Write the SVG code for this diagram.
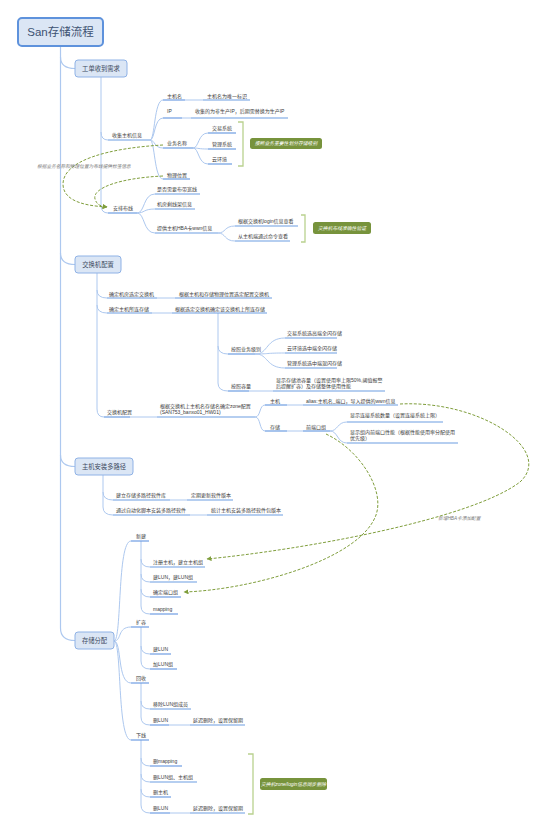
<svg xmlns="http://www.w3.org/2000/svg" width="554" height="832" viewBox="0 0 554 832">
<style>
.t{font-family:"Liberation Sans","Noto Sans CJK SC",sans-serif;font-size:5px;fill:#3a3a3a}
.bt{font-family:"Liberation Sans","Noto Sans CJK SC",sans-serif;font-size:6.3px;fill:#3b4a5e;text-anchor:middle}
.box{fill:#dbe6f5;stroke:#8fb2e6;stroke-width:1}
.u{stroke:#6d9de2;stroke-width:1.2;fill:none}
.c{stroke:#adc8ef;stroke-width:1;fill:none}
.tr{stroke:#adc8ef;stroke-width:1.2;fill:none}
.d{stroke:#7f9e3c;stroke-width:1;fill:none;stroke-dasharray:3 1.6}
.br{stroke:#b9d18e;stroke-width:1.3;fill:none}
.cl{fill:#77933c}
.ct{font-family:"Liberation Sans","Noto Sans CJK SC",sans-serif;font-size:4.8px;fill:#fff;font-style:italic;text-anchor:middle}
.lb{font-family:"Liberation Sans","Noto Sans CJK SC",sans-serif;font-size:4.7px;fill:#7a7a7a;font-style:italic}
</style>
<defs>
<marker id="ah" viewBox="0 0 10 10" refX="9" refY="5" markerWidth="5" markerHeight="5" markerUnits="userSpaceOnUse" orient="auto">
<path d="M0,0 L10,5 L0,10 Z" fill="#7f9e3c"/>
</marker>
</defs>

<g id="connectors">
<!-- trunk -->
<path class="tr" d="M60.5,46 V628 Q60.5,640.5 75,640.5"/>
<path class="tr" d="M60.5,57 Q60.5,68.5 75,68.5"/>
<path class="tr" d="M60.5,253 Q60.5,264.5 75,264.5"/>
<path class="tr" d="M60.5,455 Q60.5,466.5 75,466.5"/>
<!-- 工单收到需求 -->
<path class="c" d="M101,77 V205 Q101,213 108,213"/>
<path class="c" d="M101,132 Q101,140 108,140"/>
<!-- 收集主机信息 fan -->
<path class="c" d="M150,140 C155,140 154,100 163,100"/>
<path class="c" d="M150,140 C155,140 154,118 163,118"/>
<path class="c" d="M150,140 C155,140 154,148 163,148"/>
<path class="c" d="M150,140 C155,140 154,179 163,179"/>
<path class="c" d="M185,100 H203"/>
<path class="c" d="M182,118 H191"/>
<!-- 业务名称 fan -->
<path class="c" d="M193,148 C199,148 198,133 208,133"/>
<path class="c" d="M193,148 C199,148 198,149 208,149"/>
<path class="c" d="M193,148 C199,148 198,164 208,164"/>
<!-- 安排布线 fan -->
<path class="c" d="M137,213 C145,213 143,194 155,194"/>
<path class="c" d="M137,213 C145,213 143,209 155,209"/>
<path class="c" d="M137,213 C145,213 143,233 155,233"/>
<path class="c" d="M218,233 C226,233 224,226 235,226"/>
<path class="c" d="M218,233 C226,233 224,241 235,241"/>
<!-- 交换机配置 -->
<path class="c" d="M97,273 V409 Q97,417 104,417"/>
<path class="c" d="M97,290 Q97,298 107,298"/>
<path class="c" d="M97,305 Q97,313 107,313"/>
<path class="c" d="M157,298 H175"/>
<path class="c" d="M152,313 H172"/>
<path class="c" d="M218,313 V383 Q218,391 228,391"/>
<path class="c" d="M218,346 Q218,354 228,354"/>
<path class="c" d="M256,354 C268,354 266,338 285,338"/>
<path class="c" d="M256,354 C268,354 266,353 285,353"/>
<path class="c" d="M256,354 C268,354 266,368 285,368"/>
<path class="c" d="M249,391 H273"/>
<path class="c" d="M130,417 H157"/>
<path class="c" d="M255,417 C261,417 259,405 265,405"/>
<path class="c" d="M255,417 C261,417 259,431 265,431"/>
<path class="c" d="M287,405 H303"/>
<path class="c" d="M287,431 H303"/>
<path class="c" d="M330,431 C338,431 337,422 347,422"/>
<path class="c" d="M330,431 C338,431 337,443 347,443"/>
<!-- 主机安装多路径 -->
<path class="c" d="M103,475 V507 Q103,515 113,515"/>
<path class="c" d="M103,492 Q103,500 113,500"/>
<path class="c" d="M170,500 H187"/>
<path class="c" d="M190,515 H207"/>
<!-- 存储分配 -->
<path class="c" d="M114,641 C122,641 117,541 131,541"/>
<path class="c" d="M114,641 C122,641 117,627 131,627"/>
<path class="c" d="M114,641 C122,641 117,683 131,683"/>
<path class="c" d="M114,641 C122,641 117,740 131,740"/>
<path class="c" d="M141,541 V606 Q141,614 150,614"/>
<path class="c" d="M141,559 Q141,567 150,567"/>
<path class="c" d="M141,574 Q141,582 150,582"/>
<path class="c" d="M141,589 Q141,597 150,597"/>
<path class="c" d="M141,627 V661 Q141,669 150,669"/>
<path class="c" d="M141,646 Q141,654 150,654"/>
<path class="c" d="M141,683 V717 Q141,725 150,725"/>
<path class="c" d="M141,701 Q141,709 150,709"/>
<path class="c" d="M169,725 H190"/>
<path class="c" d="M141,740 V805 Q141,813 150,813"/>
<path class="c" d="M141,758 Q141,766 150,766"/>
<path class="c" d="M141,774 Q141,782 150,782"/>
<path class="c" d="M141,789 Q141,797 150,797"/>
<path class="c" d="M170,813 H190"/>
<!-- brackets -->
<path class="br" d="M238,122 H243 V166 H238"/>
<path class="br" d="M301,215 H305 V242 H301"/>
<path class="br" d="M248,754 H253 V814 H248"/>
<!-- dashed relations -->
<path class="d" d="M163,145 C110,148 62,160 63,185 C64,203 90,206 107,207" marker-end="url(#ah)"/>
<path class="d" d="M163,176 C120,178 92,188 95,199 C97,205 100,206 107,207" marker-end="url(#ah)"/>
<path class="d" d="M400,404 C480,400 555,450 520,482 C470,520 300,550 207,559" marker-end="url(#ah)"/>
<path class="d" d="M326,434 C360,450 385,490 376,515 C360,560 250,590 184,592" marker-end="url(#ah)"/>
</g>

<g id="title"><rect x="18" y="18" width="85" height="28" rx="4" fill="#dbe6f5" stroke="#5e92dc" stroke-width="2"/><text x="60.5" y="36" style="font-family:'Liberation Sans','Noto Sans CJK SC',sans-serif;font-size:11.5px;fill:#3d5272;text-anchor:middle">San存储流程</text></g>

<g id="b1"><rect class="box" x="75" y="60" width="52" height="17" rx="3"/><text class="bt" x="101" y="70.8">工单收到需求</text></g>
<g id="n_collect"><text class="t" x="112" y="137">收集主机信息</text><path class="u" d="M108,140 H150"/></g>
<g id="n_hostname"><text class="t" x="167" y="97.5">主机名</text><path class="u" d="M163,100 H185"/></g>
<g id="n_hostname_v"><text class="t" x="207" y="97.5">主机名为唯一标识</text><path class="u" d="M203,100 H250"/></g>
<g id="n_ip"><text class="t" x="167" y="113">IP</text><path class="u" d="M163,118 H182"/></g>
<g id="n_ip_v"><text class="t" x="195" y="113">收集的为非生产IP，后期需替换为生产IP</text><path class="u" d="M191,118 H288"/></g>
<g id="n_biz"><text class="t" x="167" y="145">业务名称</text><path class="u" d="M163,148 H193"/></g>
<g id="n_biz1"><text class="t" x="212" y="130">交易系统</text><path class="u" d="M208,133 H236"/></g>
<g id="n_biz2"><text class="t" x="212" y="146">管理系统</text><path class="u" d="M208,149 H236"/></g>
<g id="n_biz3"><text class="t" x="212" y="161">云环境</text><path class="u" d="M208,164 H232"/></g>
<g id="callout1"><rect class="cl" x="250" y="138" width="72" height="11" rx="2.5"/><text class="ct" x="286" y="145.3">按照业务重要性划分存储级别</text></g>
<g id="n_loc"><text class="t" x="167" y="176.5">物理位置</text><path class="u" d="M163,179 H190"/></g>
<g id="lbl1"><text class="lb" x="37" y="167.5">根据业务名称和物理位置为布线提供标签信息</text></g>
<g id="n_wire"><text class="t" x="113" y="210">安排布线</text><path class="u" d="M108,213 H137"/></g>
<g id="n_wire1"><text class="t" x="157" y="191">是否需要布带宽线</text><path class="u" d="M155,194 H200"/></g>
<g id="n_wire2"><text class="t" x="157" y="206">机房剩线架信息</text><path class="u" d="M155,209 H195"/></g>
<g id="n_wire3"><text class="t" x="157" y="230">提供主机HBA卡wwn信息</text><path class="u" d="M155,233 H218"/></g>
<g id="n_wire31"><text class="t" x="238" y="223">根据交换机login信息查看</text><path class="u" d="M235,226 H298"/></g>
<g id="n_wire32"><text class="t" x="238" y="238">从主机端通过命令查看</text><path class="u" d="M235,241 H290"/></g>
<g id="callout2"><rect class="cl" x="313" y="222" width="58" height="12" rx="2.5"/><text class="ct" x="342" y="229.8">交换机布线准确性验证</text></g>

<g id="b2"><rect class="box" x="75" y="256" width="46" height="17" rx="3"/><text class="bt" x="98" y="266.8">交换机配置</text></g>
<g id="n_sw1"><text class="t" x="109" y="295.5">确定机房选定交换机</text><path class="u" d="M107,298 H157"/></g>
<g id="n_sw1v"><text class="t" x="179" y="295.5">根据主机和存储物理位置选定配置交换机</text><path class="u" d="M175,298 H272"/></g>
<g id="n_sw2"><text class="t" x="109" y="310.5">确定主机所连存储</text><path class="u" d="M107,313 H152"/></g>
<g id="n_sw2v"><text class="t" x="175" y="310.5">根据选定交换机确定该交换机上所连存储</text><path class="u" d="M172,313 H267"/></g>
<g id="n_lvl"><text class="t" x="231" y="351">按照业务级别</text><path class="u" d="M228,354 H256"/></g>
<g id="n_lvl1"><text class="t" x="287" y="335">交易系统选高端全闪存储</text><path class="u" d="M285,338 H337"/></g>
<g id="n_lvl2"><text class="t" x="287" y="350">云环境选中端全闪存储</text><path class="u" d="M285,353 H337"/></g>
<g id="n_lvl3"><text class="t" x="287" y="365">管理系统选中端混闪存储</text><path class="u" d="M285,368 H337"/></g>
<g id="n_cap"><text class="t" x="231" y="388">按照容量</text><path class="u" d="M228,391 H249"/></g>
<g id="n_capv"><text class="t" x="276" y="381.5">显示存储池容量（设置使用率上限50%,阈值报警</text><text class="t" x="276" y="388.3">后提醒扩容）及存储整体使用性能</text><path class="u" d="M273,391 H385"/></g>
<g id="n_zone"><text class="t" x="107" y="414">交换机配置</text><path class="u" d="M104,417 H130"/></g>
<g id="n_zonev"><text class="t" x="160" y="407.5">根据交换机上主机名存储名确定zone配置</text><text class="t" x="160" y="414.3">(SAN753_banxo01_HW01)</text><path class="u" d="M157,417 H255"/></g>
<g id="n_host"><text class="t" x="270" y="402.5">主机</text><path class="u" d="M265,405 H287"/></g>
<g id="n_hostv"><text class="t" x="306" y="402.5">alias:主机名_端口，导入提供的wwn信息</text><path class="u" d="M303,405 H398"/></g>
<g id="n_stor"><text class="t" x="270" y="428.5">存储</text><path class="u" d="M265,431 H287"/></g>
<g id="n_port"><text class="t" x="306" y="428.5">前端口组</text><path class="u" d="M303,431 H330"/></g>
<g id="n_port1"><text class="t" x="350" y="417">显示连接系统数量（设置连接系统上限）</text><path class="u" d="M347,422 H443"/></g>
<g id="n_port2"><text class="t" x="350" y="433.5">显示组内前端口性能（根据性能使用率分配使用</text><text class="t" x="350" y="440.3">优先级）</text><path class="u" d="M347,443 H458"/></g>
<g id="lbl2"><text class="lb" x="438" y="520">新增HBA卡添加配置</text></g>

<g id="b3"><rect class="box" x="75" y="458" width="58" height="17" rx="3"/><text class="bt" x="104" y="468.8">主机安装多路径</text></g>
<g id="n_mp1"><text class="t" x="116" y="497">建立存储多路径软件库</text><path class="u" d="M113,500 H170"/></g>
<g id="n_mp1v"><text class="t" x="191" y="497">定期更新软件版本</text><path class="u" d="M187,500 H233"/></g>
<g id="n_mp2"><text class="t" x="116" y="512">通过自动化脚本安装多路径软件</text><path class="u" d="M113,515 H190"/></g>
<g id="n_mp2v"><text class="t" x="211" y="512">统计主机安装多路径软件包版本</text><path class="u" d="M207,515 H283"/></g>

<g id="b4"><rect class="box" x="75" y="632" width="39" height="17" rx="3"/><text class="bt" x="94.5" y="642.8">存储分配</text></g>
<g id="n_new"><text class="t" x="136" y="538">新建</text><path class="u" d="M131,541 H149"/></g>
<g id="n_new1"><text class="t" x="153" y="564">注册主机，建立主机组</text><path class="u" d="M150,567 H205"/></g>
<g id="n_new2"><text class="t" x="153" y="579">建LUN，建LUN组</text><path class="u" d="M150,582 H197"/></g>
<g id="n_new3"><text class="t" x="153" y="594">确定端口组</text><path class="u" d="M150,597 H181"/></g>
<g id="n_new4"><text class="t" x="153" y="611">mapping</text><path class="u" d="M150,614 H178"/></g>
<g id="n_exp"><text class="t" x="136" y="624">扩容</text><path class="u" d="M131,627 H149"/></g>
<g id="n_exp1"><text class="t" x="153" y="651">建LUN</text><path class="u" d="M150,654 H171"/></g>
<g id="n_exp2"><text class="t" x="153" y="666">加LUN组</text><path class="u" d="M150,669 H177"/></g>
<g id="n_rec"><text class="t" x="136" y="680">回收</text><path class="u" d="M131,683 H149"/></g>
<g id="n_rec1"><text class="t" x="153" y="706">移除LUN组成员</text><path class="u" d="M150,709 H191"/></g>
<g id="n_rec2"><text class="t" x="153" y="722">删LUN</text><path class="u" d="M150,725 H169"/></g>
<g id="n_rec2v"><text class="t" x="193" y="722">延迟删除，设置保留期</text><path class="u" d="M190,725 H245"/></g>
<g id="n_off"><text class="t" x="136" y="737">下线</text><path class="u" d="M131,740 H149"/></g>
<g id="n_off1"><text class="t" x="153" y="763">删mapping</text><path class="u" d="M150,766 H182"/></g>
<g id="n_off2"><text class="t" x="153" y="779">删LUN组、主机组</text><path class="u" d="M150,782 H197"/></g>
<g id="n_off3"><text class="t" x="153" y="794">删主机</text><path class="u" d="M150,797 H171"/></g>
<g id="n_off4"><text class="t" x="153" y="810">删LUN</text><path class="u" d="M150,813 H170"/></g>
<g id="n_off4v"><text class="t" x="193" y="810">延迟删除，设置保留期</text><path class="u" d="M190,813 H245"/></g>
<g id="callout3"><rect class="cl" x="260" y="778" width="67" height="12" rx="2.5"/><text class="ct" x="293.5" y="785.8">交换机zone/login信息同步删除</text></g>
</svg>
